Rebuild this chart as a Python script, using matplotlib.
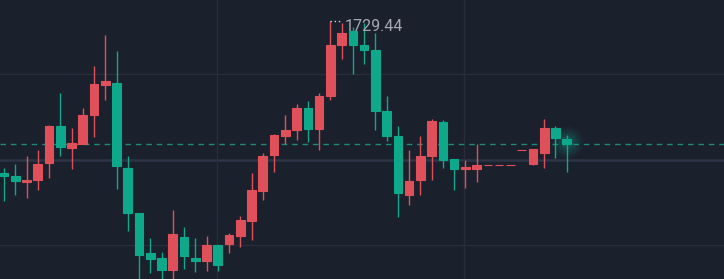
import matplotlib
matplotlib.use("Agg")
import matplotlib.pyplot as plt
import numpy as np

# OHLC data (price units)
opens = [1638.42, 1636.26, 1633.02, 1634.04, 1644.42, 1666.26, 1653.42, 1655.64, 1673.04, 1691.04,
         1692.42, 1641.42, 1614.42, 1590.42, 1587.42, 1580.04, 1600.02, 1587.42, 1585.26, 1594.86,
         1595.82, 1600.26, 1609.26, 1627.26, 1649.04, 1660.26, 1664.04, 1677.42, 1664.82, 1684.26,
         1715.04, 1723.44, 1715.04, 1712.04, 1675.26, 1660.26, 1625.22, 1634.04, 1648.26, 1668.66,
         1646.64, 1640.82, 1640.82, 1643.22, 1643.22, 1643.22, 1652.22, 1643.64, 1650.42, 1665.42,
         1658.64]
highs = [1641.24, 1643.64, 1648.44, 1652.04, 1667.04, 1686.42, 1665.42, 1677.42, 1702.26, 1721.04,
         1711.26, 1648.26, 1614.42, 1599.42, 1590.84, 1616.04, 1605.66, 1599.42, 1600.26, 1594.86,
         1602.42, 1612.44, 1638.42, 1650.42, 1661.64, 1673.04, 1679.64, 1681.44, 1686.24, 1729.44,
         1728.06, 1725.84, 1728.06, 1722.42, 1684.44, 1666.44, 1652.04, 1660.26, 1670.64, 1670.04,
         1646.64, 1646.04, 1655.64, 1643.22, 1643.22, 1643.22, 1652.22, 1652.64, 1670.64, 1666.44,
         1661.04]
lows = [1621.26, 1625.22, 1623.42, 1628.04, 1635.42, 1648.26, 1640.82, 1655.46, 1659.66, 1682.04,
        1628.82, 1603.26, 1573.44, 1578.06, 1573.44, 1573.44, 1580.82, 1578.66, 1579.26, 1579.26,
        1590.06, 1594.02, 1598.04, 1622.04, 1639.02, 1655.46, 1658.04, 1657.02, 1652.04, 1682.04,
        1706.64, 1697.82, 1703.82, 1664.04, 1657.26, 1612.02, 1619.04, 1625.04, 1634.04, 1641.42,
        1628.04, 1629.42, 1633.02, 1643.22, 1643.22, 1643.22, 1652.22, 1642.86, 1641.42, 1647.42,
        1639.02]
closes = [1636.44, 1633.44, 1634.04, 1643.82, 1666.26, 1654.02, 1656.42, 1673.04, 1691.64, 1693.26,
          1642.44, 1614.06, 1589.04, 1586.82, 1580.04, 1601.64, 1588.26, 1585.44, 1594.86, 1583.04,
          1600.86, 1610.04, 1627.86, 1648.26, 1661.04, 1664.04, 1677.42, 1664.82, 1684.26, 1715.04,
          1722.42, 1715.04, 1712.04, 1675.26, 1660.26, 1626.42, 1633.26, 1648.26, 1669.26, 1646.04,
          1640.82, 1641.66, 1642.86, 1643.22, 1643.22, 1643.22, 1652.22, 1652.64, 1665.42, 1659.42,
          1655.46]
max_label = "1729.44"

BG = "#1b202d"
UP = "#e0505a"
DOWN = "#0ea88a"
GRID = "#272d3b"

fig = plt.figure(figsize=(7.24, 2.79), dpi=100, facecolor=BG)
ax = fig.add_axes([0, 0, 1, 1])
ax.set_facecolor(BG)

n = len(opens)
x = np.arange(n)
o = np.array(opens); h = np.array(highs); l = np.array(lows); c = np.array(closes)
up = c >= o
colors = np.where(up, UP, DOWN)

# grid
ax.axhline(1697.64, color=GRID, lw=1.0, zorder=0)
ax.axhline(1595.04, color=GRID, lw=1.0, zorder=0)
ax.axhline(1646.22, color="#2d3445", lw=1.8, zorder=0)
for gx in [18.93, 40.87]:
    ax.axvline(gx, color=GRID, lw=1.0, zorder=0)

# wicks
ax.vlines(x, l, h, colors=colors, lw=1.0, zorder=2)
# bodies
bottoms = np.minimum(o, c)
heights = np.abs(c - o)
ax.bar(x, heights, bottom=bottoms, width=0.77, color=colors, edgecolor=colors,
       linewidth=0.8, zorder=3)

# last price line
ax.axhline(c[-1], color="#1f8a78", lw=1.0, ls=(0, (4, 3.5)), zorder=1)

# glow on last candle
for s, a in [(520, 0.06), (340, 0.08), (200, 0.11), (90, 0.15)]:
    ax.scatter([x[-1]], [c[-1] + 1.5], s=s, color=DOWN, alpha=a, lw=0, zorder=4)

# max label
imax = int(np.argmax(h))
ax.plot([x[imax], x[imax] + 1.05], [h[imax], h[imax]], color="#d0d4dc", lw=1.0,
        ls=(0, (1, 2)), zorder=5)
ax.text(x[imax] + 1.25, h[imax] - 3.5, max_label, color="#a4aab4", fontsize=11.5,
        family="Roboto", fontweight="normal", ha="left", va="center", zorder=5)

ax.set_xlim(-0.3554, 63.98)
ax.set_ylim(1574.64, 1742.04)
ax.axis("off")

fig.savefig("out.png", dpi=100, facecolor=BG)
